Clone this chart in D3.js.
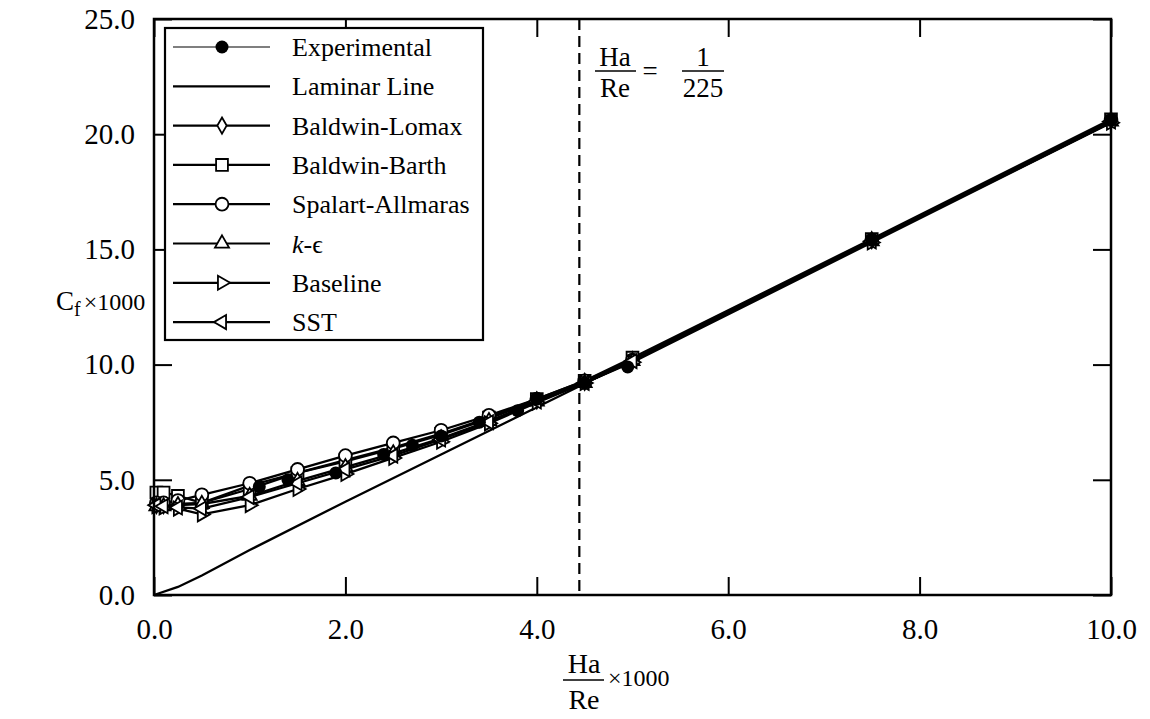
<!DOCTYPE html>
<html>
<head>
<meta charset="utf-8">
<script src="https://cdn.jsdelivr.net/npm/d3@7"></script>
<style>
  body { margin: 0; background: #fff; }
  svg { display: block; font-family: "Liberation Serif", "DejaVu Serif", serif; }
</style>
</head>
<body>
<div id="chart"></div>
<script>
// x positions of the computed points (Ha/Re x 1000)
const modelX = [0.025, 0.1, 0.25, 0.5, 1.0, 1.5, 2.0, 2.5, 3.0, 3.5, 4.0, 4.5, 5.0, 7.5, 10.0];

// Cf x 1000 for each turbulence model
const baldwinLomax = [3.9, 3.9, 3.95, 4.0, 4.75, 5.3, 5.8, 6.35, 6.95, 7.65, 8.45, 9.25, 10.2, 15.4, 20.6];
const baldwinBarth = [4.45, 4.45, 4.3, 4.0, 4.6, 5.3, 5.85, 6.4, 7.0, 7.7, 8.5, 9.3, 10.3, 15.45, 20.65];
const spalartAllmaras = [4.0, 4.0, 4.1, 4.35, 4.85, 5.45, 6.05, 6.6, 7.15, 7.8, 8.5, 9.3, 10.2, 15.4, 20.6];
const kEpsilon = [3.85, 3.85, 3.9, 3.95, 4.3, 4.95, 5.55, 6.15, 6.8, 7.55, 8.4, 9.2, 10.15, 15.35, 20.55];
const baseline = [3.85, 3.8, 3.75, 3.5, 3.9, 4.6, 5.25, 5.95, 6.65, 7.45, 8.35, 9.2, 10.1, 15.3, 20.5];
const sst = [3.9, 3.85, 3.8, 3.75, 4.25, 4.85, 5.45, 6.05, 6.75, 7.5, 8.4, 9.2, 10.15, 15.35, 20.55];

// experimental points
const expX = [1.1, 1.4, 1.9, 2.4, 2.7, 3.0, 3.4, 3.8, 4.0, 4.5, 4.95, 7.5, 10.0];
const expY = [4.7, 5.0, 5.3, 6.1, 6.5, 6.9, 7.5, 8.0, 8.5, 9.2, 9.9, 15.4, 20.6];

// laminar line
const lamX = [0, 0.25, 0.5, 1, 2, 3, 4, 5, 7.5, 10];
const lamY = [0, 0.35, 0.85, 1.95, 4.05, 6.1, 8.15, 10.2, 15.35, 20.5];

const xTicks = [0, 2, 4, 6, 8, 10];
const yTicks = [0, 5, 10, 15, 20, 25];
const critX = 1000 / 225; // Ha/Re = 1/225

const W = 1150, H = 719;
const svg = d3.select("#chart").append("svg")
    .attr("width", W)
    .attr("height", H);

const x = d3.scaleLinear().domain([0, 10]).range([154, 1111]);
const y = d3.scaleLinear().domain([0, 25]).range([595, 19]);

// curves
const line = d3.line().x((d) => x(d[0])).y((d) => y(d[1]));

svg.append("path")
    .datum(lamX.map((v, i) => [v, lamY[i]]))
    .attr("d", line)
    .attr("fill", "none")
    .attr("stroke", "#000")
    .attr("stroke-width", 2.3);

const series = [
    { name: "Baldwin-Lomax", ys: baldwinLomax, sym: d3.symbolDiamond, size: 75, rot: 0 },
    { name: "Baldwin-Barth", ys: baldwinBarth, sym: d3.symbolSquare, size: 140, rot: 0 },
    { name: "Spalart-Allmaras", ys: spalartAllmaras, sym: d3.symbolCircle, size: 130, rot: 0 },
    { name: "k-e", ys: kEpsilon, sym: d3.symbolTriangle, size: 85, rot: 0 },
    { name: "Baseline", ys: baseline, sym: d3.symbolTriangle, size: 85, rot: 90 },
    { name: "SST", ys: sst, sym: d3.symbolTriangle, size: 85, rot: -90 },
];

series.forEach((s) => {
    const pts = modelX.map((v, i) => [v, s.ys[i]]);
    svg.append("path")
        .datum(pts)
        .attr("d", line)
        .attr("fill", "none")
        .attr("stroke", "#000")
        .attr("stroke-width", 2.3);
    svg.append("g")
        .selectAll("path")
        .data(pts)
        .join("path")
        .attr("transform", (d) => `translate(${x(d[0])},${y(d[1])}) rotate(${s.rot})`)
        .attr("d", d3.symbol(s.sym, s.size))
        .attr("fill", "#fff")
        .attr("stroke", "#000")
        .attr("stroke-width", 1.8);
});

const expPts = expX.map((v, i) => [v, expY[i]]);
svg.append("g")
    .selectAll("circle")
    .data(expPts)
    .join("circle")
    .attr("cx", (d) => x(d[0]))
    .attr("cy", (d) => y(d[1]))
    .attr("r", 6.5)
    .attr("fill", "#000");

// dashed critical line
svg.append("line")
    .attr("x1", x(critX)).attr("x2", x(critX))
    .attr("y1", y(25)).attr("y2", y(0))
    .attr("stroke", "#000")
    .attr("stroke-width", 2.2)
    .attr("stroke-dasharray", "11,6");

// axes: labels on bottom/left, inward ticks on all sides
const fmt = d3.format(".1f");
const styleAxis = (g) => {
    g.attr("font-family", null).attr("font-size", null);
    g.select(".domain").remove();
    g.selectAll("line").attr("stroke", "#000").attr("stroke-width", 2);
    g.selectAll("text")
        .attr("fill", "#000")
        .style("font-family", '"Liberation Serif", serif')
        .style("font-size", "29px");
};

svg.append("g")
    .attr("transform", `translate(0,${y(0)})`)
    .call(d3.axisBottom(x).tickValues(xTicks).tickFormat(fmt).tickSize(-18).tickPadding(23))
    .call(styleAxis);
svg.append("g")
    .attr("transform", `translate(0,${y(25)})`)
    .call(d3.axisTop(x).tickValues(xTicks).tickFormat("").tickSize(-18))
    .call(styleAxis);
svg.append("g")
    .attr("transform", `translate(${x(0)},0)`)
    .call(d3.axisLeft(y).tickValues(yTicks).tickFormat(fmt).tickSize(-18).tickPadding(19))
    .call(styleAxis);
svg.append("g")
    .attr("transform", `translate(${x(10)},0)`)
    .call(d3.axisRight(y).tickValues(yTicks).tickFormat("").tickSize(-18))
    .call(styleAxis);

// frame
svg.append("rect")
    .attr("x", x(0)).attr("y", y(25))
    .attr("width", x(10) - x(0)).attr("height", y(0) - y(25))
    .attr("fill", "none")
    .attr("stroke", "#000")
    .attr("stroke-width", 2.5);

// legend
const legendItems = [
    { label: "Experimental", kind: "exp" },
    { label: "Laminar Line", kind: "none" },
    ...series.map((s) => ({ label: s.name, kind: "sym", s: s })),
];
const lg = svg.append("g");
lg.append("rect")
    .attr("x", 165).attr("y", 28)
    .attr("width", 318).attr("height", 312)
    .attr("fill", "#fff")
    .attr("stroke", "#000")
    .attr("stroke-width", 2.2);

legendItems.forEach((it, i) => {
    const cy = 47 + i * 39.3;
    lg.append("line")
        .attr("x1", 173).attr("x2", 270)
        .attr("y1", cy).attr("y2", cy)
        .attr("stroke", "#000")
        .attr("stroke-width", it.kind === "exp" ? 1.2 : 2.2);
    if (it.kind === "exp") {
        lg.append("circle").attr("cx", 222).attr("cy", cy).attr("r", 6.5).attr("fill", "#000");
    } else if (it.kind === "sym") {
        lg.append("path")
            .attr("transform", `translate(222,${cy}) rotate(${it.s.rot})`)
            .attr("d", d3.symbol(it.s.sym, it.s.size))
            .attr("fill", "#fff")
            .attr("stroke", "#000")
            .attr("stroke-width", 1.8);
    }
    const t = lg.append("text")
        .attr("x", 292).attr("y", cy + 9)
        .style("font-size", "26px");
    if (it.label === "k-e") {
        t.append("tspan").style("font-style", "italic").text("k");
        t.append("tspan").text("-\u03f5");
    } else {
        t.text(it.label);
    }
});

// annotation Ha/Re = 1/225
const ann = svg.append("g").style("font-size", "27px");
ann.append("text").attr("x", 615).attr("y", 66).attr("text-anchor", "middle").text("Ha");
ann.append("line").attr("x1", 595).attr("x2", 636).attr("y1", 71).attr("y2", 71).attr("stroke", "#000").attr("stroke-width", 1.6);
ann.append("text").attr("x", 615).attr("y", 97).attr("text-anchor", "middle").text("Re");
ann.append("text").attr("x", 650).attr("y", 80).attr("text-anchor", "middle").text("=");
ann.append("text").attr("x", 703).attr("y", 66).attr("text-anchor", "middle").text("1");
ann.append("line").attr("x1", 682).attr("x2", 724).attr("y1", 71).attr("y2", 71).attr("stroke", "#000").attr("stroke-width", 1.6);
ann.append("text").attr("x", 703).attr("y", 97).attr("text-anchor", "middle").text("225");

// x axis title
const xt = svg.append("g");
xt.append("text").attr("x", 584).attr("y", 673).attr("text-anchor", "middle").style("font-size", "28px").text("Ha");
xt.append("line").attr("x1", 563).attr("x2", 604).attr("y1", 680).attr("y2", 680).attr("stroke", "#000").attr("stroke-width", 1.6);
xt.append("text").attr("x", 584).attr("y", 709).attr("text-anchor", "middle").style("font-size", "28px").text("Re");
xt.append("text").attr("x", 608).attr("y", 686).style("font-size", "24px").text("\u00d71000");

// y axis title
const yt = svg.append("text").attr("x", 56).attr("y", 310);
yt.append("tspan").style("font-size", "27px").text("C");
yt.append("tspan").attr("dy", 6).style("font-size", "20px").text("f");
yt.append("tspan").attr("dy", -6).attr("dx", 3).style("font-size", "24px").text("\u00d71000");
</script>
</body>
</html>
